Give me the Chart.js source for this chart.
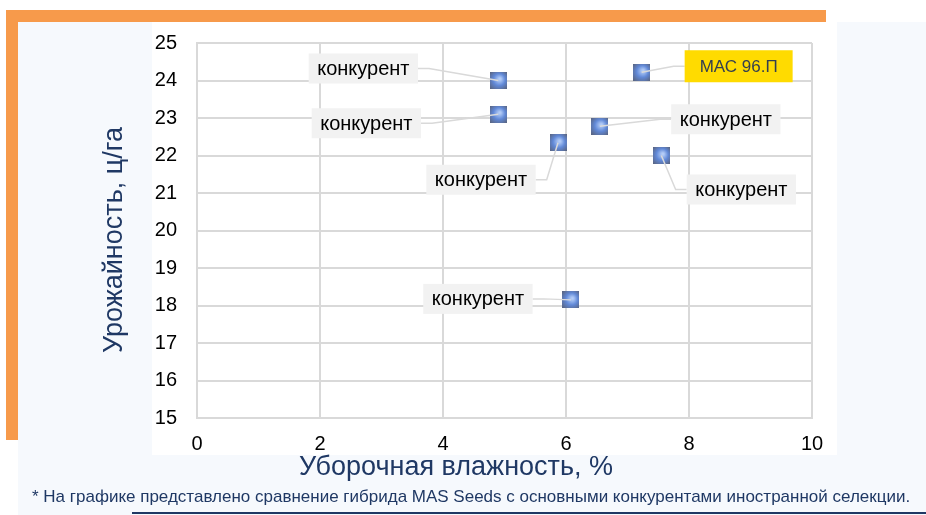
<!DOCTYPE html>
<html>
<head>
<meta charset="utf-8">
<script src="https://cdn.jsdelivr.net/npm/chart.js@4.4.1/dist/chart.umd.min.js"></script>
<style>
  body { margin: 0; background: #fff; }
  #wrap { position: relative; width: 926px; height: 515px; overflow: hidden; font-family: "Liberation Sans", Arial, sans-serif; }
  .blk { position: absolute; }
  #chartBox { position: absolute; left: 0; top: 0; width: 926px; height: 515px; }
  #note { position: absolute; left: 32px; top: 487px; font-size: 17px; color: #1f3864; white-space: nowrap; }
</style>
</head>
<body>
<div id="wrap">
  <div class="blk" style="left:18px;top:22px;width:908px;height:493px;background:#f6f9fd;"></div>
  <div class="blk" style="left:6px;top:10px;width:820px;height:12px;background:#f79a4b;"></div>
  <div class="blk" style="left:6px;top:10px;width:12px;height:430px;background:#f79a4b;"></div>
  <div class="blk" style="left:152px;top:22px;width:685px;height:433px;background:#ffffff;"></div>
  <div class="blk" style="left:132px;top:512px;width:794px;height:2px;background:#1f3864;"></div>
  <div id="chartBox"><canvas id="yieldChart"></canvas></div>
  <div id="note">* На графике представлено сравнение гибрида MAS Seeds с основными конкурентами иностранной селекции.</div>
</div>
<script>
// Data
const pointNames = ["конкурент", "конкурент", "конкурент", "конкурент", "МАС 96.П", "конкурент", "конкурент"];
const moisture = [4.9, 4.9, 5.87, 6.55, 7.23, 7.55, 6.08];
const yieldValues = [24.0, 23.1, 22.34, 22.78, 24.22, 22.0, 18.15];
const xTicks = [0, 2, 4, 6, 8, 10];
const yTicks = [15, 16, 17, 18, 19, 20, 21, 22, 23, 24, 25];
const xTitle = "Уборочная влажность, %";
const yTitle = "Урожайность, ц/га";

// label box offsets from the point (box centre), px
const labelOffsets = [[-135, -12], [-132, 9], [-77, 37], [126, -7], [97, -6], [80, 34], [-93, -1]];
const highlightIndex = 4;

// marker: small shaded square
function makeMarker() {
  const c = document.createElement("canvas");
  c.width = 17; c.height = 17;
  const g = c.getContext("2d");
  const grad = g.createRadialGradient(10, 7, 1, 8.5, 8.5, 12);
  grad.addColorStop(0, "#b3ccf7");
  grad.addColorStop(0.45, "#6189d8");
  grad.addColorStop(1, "#59627a");
  g.fillStyle = grad;
  g.fillRect(0, 0, 17, 17);
  return c;
}

const calloutPlugin = {
  id: "callouts",
  afterDatasetsDraw(chart) {
    const ctx = chart.ctx;
    const meta = chart.getDatasetMeta(0);
    meta.data.forEach((pt, i) => {
      const hl = i === highlightIndex;
      const text = pointNames[i];
      ctx.save();
      ctx.font = hl ? '17px "Liberation Sans"' : '20px "Liberation Sans"';
      const tw = ctx.measureText(text).width;
      const padX = hl ? 15 : 8.5;
      const w = tw + padX * 2;
      const h = hl ? 32 : 30;
      const cx = pt.x + labelOffsets[i][0];
      const cy = pt.y + labelOffsets[i][1];
      const left = cx - w / 2;
      const top = cy - h / 2;

      // leader line
      const fromRight = pt.x > cx;
      const sx = fromRight ? left + w : left;
      const stub = fromRight ? sx + 11 : sx - 11;
      ctx.strokeStyle = "#d9d9d9";
      ctx.lineWidth = 1.5;
      ctx.beginPath();
      ctx.moveTo(sx, cy);
      ctx.lineTo(stub, cy);
      ctx.lineTo(pt.x, pt.y);
      ctx.stroke();

      ctx.fillStyle = hl ? "#ffdb00" : "#f2f2f2";
      ctx.fillRect(left, top, w, h);
      ctx.fillStyle = hl ? "#333f50" : "#000000";
      ctx.textAlign = "center";
      ctx.textBaseline = "middle";
      ctx.fillText(text, cx, cy + 1);
      ctx.restore();
    });
  },
};

const titlePlugin = {
  id: "axisTitles",
  afterDraw(chart) {
    const ctx = chart.ctx;
    const a = chart.chartArea;
    ctx.save();
    ctx.fillStyle = "#1f3864";
    ctx.font = '27px "Liberation Sans"';
    ctx.textAlign = "center";
    ctx.textBaseline = "middle";
    ctx.fillText(xTitle, a.left + 259, a.bottom + 50);
    ctx.translate(a.left - 82, a.top + 197);
    ctx.rotate(-Math.PI / 2);
    ctx.fillText(yTitle, 0, 0);
    ctx.restore();
  },
};

const gridColor = "#d9d9d9";

const yieldData = {
  datasets: [
    {
      label: "Урожайность",
      data: moisture.map((x, i) => ({ x: x, y: yieldValues[i] })),
      pointStyle: makeMarker(),
      pointRadius: 8,
      pointHoverRadius: 8,
      showLine: false,
    },
  ],
};

const yieldConfig = {
  type: "scatter",
  data: yieldData,
  options: {
    responsive: true,
    maintainAspectRatio: false,
    animation: false,
    layout: { padding: { top: 43, right: 114, left: 0, bottom: 0 } },
    plugins: {
      legend: { display: false },
      tooltip: { enabled: false },
    },
    scales: {
      x: {
        type: "linear",
        min: xTicks[0],
        max: xTicks[xTicks.length - 1],
        afterBuildTicks: (s) => { s.ticks = xTicks.map((v) => ({ value: v })); },
        afterFit: (s) => { s.height = 97; },
        ticks: { color: "#000", font: { size: 20, family: "Liberation Sans" }, padding: 14 },
        grid: { color: gridColor, lineWidth: 2, drawTicks: false },
        border: { color: gridColor, width: 2 },
      },
      y: {
        type: "linear",
        min: yTicks[0],
        max: yTicks[yTicks.length - 1],
        afterBuildTicks: (s) => { s.ticks = yTicks.map((v) => ({ value: v })); },
        afterFit: (s) => { s.width = 197; },
        ticks: { color: "#000", font: { size: 20, family: "Liberation Sans" }, padding: 20 },
        grid: { color: gridColor, lineWidth: 2, drawTicks: false },
        border: { color: gridColor, width: 2 },
      },
    },
  },
  plugins: [calloutPlugin, titlePlugin],
};

const yieldChart = new Chart(document.getElementById("yieldChart"), yieldConfig);
</script>
</body>
</html>
